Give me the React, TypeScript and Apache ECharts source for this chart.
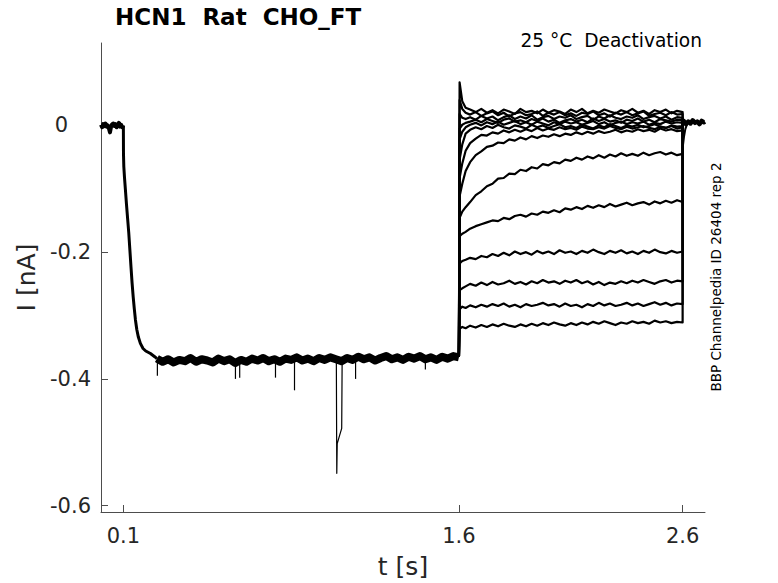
import React, { useEffect, useRef } from "react";
import * as echarts from "echarts";

// ---- axis ticks ----
const xTicks = [0.1, 1.6, 2.6];
const yTicks = [-0.6, -0.4, -0.2, 0];

// ---- holding baseline (0 - 0.1 s) ----
const baseT = [0, 0.005, 0.01, 0.015, 0.02, 0.025, 0.03, 0.035, 0.04, 0.045, 0.05, 0.055, 0.06, 0.065, 0.07, 0.075, 0.08, 0.085, 0.09, 0.095, 0.1];
const baseI = [0.001, -0.003, 0.002, -0.001, 0.003, -0.002, 0.0, -0.004, -0.011, -0.002, 0.002, 0.003, -0.001, 0.002, -0.003, 0.001, 0.004, -0.002, 0.001, -0.003, 0.0];

// ---- activation (hyperpolarising step, shared by all sweeps) ----
const actT = [0.1, 0.1005, 0.102, 0.105, 0.109, 0.114, 0.119, 0.124, 0.129, 0.134, 0.139, 0.144, 0.149, 0.154, 0.16, 0.167, 0.176, 0.188, 0.2, 0.221, 0.24, 0.25];
const actI = [0.0, -0.045, -0.065, -0.082, -0.101, -0.125, -0.147, -0.169, -0.196, -0.223, -0.249, -0.271, -0.29, -0.307, -0.322, -0.334, -0.344, -0.352, -0.356, -0.36, -0.365, -0.368];

const plateauT = [
  0.25, 0.275, 0.3, 0.325, 0.35, 0.375, 0.4, 0.425, 0.45, 0.475,
  0.5, 0.525, 0.55, 0.575, 0.6, 0.625, 0.65, 0.675, 0.7, 0.725,
  0.75, 0.775, 0.8, 0.825, 0.85, 0.875, 0.9, 0.925, 0.95, 0.975,
  1.0, 1.025, 1.05, 1.075, 1.1, 1.125, 1.15, 1.175, 1.2, 1.225,
  1.25, 1.275, 1.3, 1.325, 1.35, 1.375, 1.4, 1.425, 1.45, 1.475,
  1.5, 1.525, 1.55, 1.575, 1.6,
];
const plateauI = [
  -0.368, -0.373, -0.369, -0.374, -0.37, -0.372, -0.367, -0.373, -0.369, -0.371,
  -0.374, -0.368, -0.372, -0.369, -0.375, -0.37, -0.373, -0.368, -0.371, -0.367,
  -0.372, -0.369, -0.373, -0.368, -0.37, -0.366, -0.371, -0.368, -0.372, -0.367,
  -0.37, -0.366, -0.369, -0.372, -0.367, -0.37, -0.365, -0.369, -0.366, -0.371,
  -0.367, -0.364, -0.369, -0.366, -0.37, -0.365, -0.368, -0.364, -0.369, -0.366,
  -0.37, -0.365, -0.368, -0.364, -0.366,
];

// ---- brief artefact spikes on the plateau ----
const spikeT = [0.252, 0.601, 0.62, 0.78, 0.865, 1.138, 1.45];
const spikeTop = [-0.372, -0.374, -0.373, -0.372, -0.371, -0.369, -0.367];
const spikeMin = [-0.395, -0.4, -0.398, -0.398, -0.418, -0.4, -0.385];
const bigSpikeT = [1.052, 1.054, 1.056, 1.066, 1.076, 1.078];
const bigSpikeI = [-0.368, -0.549, -0.502, -0.49, -0.478, -0.368];

// ---- deactivation steps (1.6 - 2.6 s) ----
const deactT = [
  1.6, 1.603, 1.615,
  1.63, 1.65, 1.675, 1.7, 1.725, 1.75, 1.775, 1.8, 1.825, 1.85,
  1.875, 1.9, 1.925, 1.95, 1.975, 2.0, 2.025, 2.05, 2.075, 2.1,
  2.125, 2.15, 2.175, 2.2, 2.225, 2.25, 2.275, 2.3, 2.325, 2.35,
  2.375, 2.4, 2.425, 2.45, 2.475, 2.5, 2.525, 2.55, 2.575, 2.6,
];
const sweep1 = [
  -0.365, 0.068, 0.038,
  0.028, 0.025, 0.021, 0.026, 0.02, 0.024, 0.019, 0.025, 0.022, 0.018,
  0.026, 0.021, 0.023, 0.019, 0.025, 0.02, 0.024, 0.022, 0.018, 0.025,
  0.021, 0.026, 0.019, 0.023, 0.02, 0.025, 0.022, 0.019, 0.024, 0.021,
  0.026, 0.02, 0.023, 0.018, 0.024, 0.021, 0.025, 0.019, 0.023, 0.021,
];
const sweep2 = [
  -0.365, 0.04, 0.026,
  0.02, 0.017, 0.021, 0.015, 0.019, 0.022, 0.016, 0.02, 0.014, 0.019,
  0.021, 0.016, 0.018, 0.022, 0.015, 0.02, 0.017, 0.021, 0.016, 0.019,
  0.015, 0.02, 0.018, 0.022, 0.016, 0.019, 0.014, 0.02, 0.017, 0.021,
  0.016, 0.019, 0.022, 0.015, 0.018, 0.02, 0.016, 0.021, 0.017, 0.018,
];
const sweep3 = [
  -0.365, 0.018, 0.012,
  0.01, 0.013, 0.009, 0.015, 0.011, 0.014, 0.008, 0.013, 0.016, 0.01,
  0.014, 0.011, 0.016, 0.009, 0.013, 0.015, 0.01, 0.014, 0.012, 0.016,
  0.01, 0.013, 0.015, 0.009, 0.014, 0.011, 0.016, 0.012, 0.01, 0.014,
  0.012, 0.016, 0.01, 0.013, 0.015, 0.011, 0.014, 0.009, 0.013, 0.012,
];
const sweep4 = [
  -0.365, -0.005, 0.001,
  0.004, 0.006, 0.009, 0.005, 0.01, 0.007, 0.004, 0.009, 0.011, 0.006,
  0.008, 0.005, 0.01, 0.007, 0.011, 0.006, 0.009, 0.004, 0.008, 0.01,
  0.006, 0.009, 0.005, 0.011, 0.007, 0.01, 0.006, 0.008, 0.004, 0.009,
  0.007, 0.011, 0.006, 0.009, 0.005, 0.01, 0.008, 0.006, 0.009, 0.008,
];
const sweep5 = [
  -0.365, -0.022, -0.01,
  -0.003, 0.001, 0.004, 0.0, 0.005, 0.002, 0.006, 0.001, 0.004, 0.007,
  0.002, 0.005, 0.001, 0.006, 0.003, 0.0, 0.005, 0.002, 0.006, 0.003,
  0.005, 0.001, 0.004, 0.007, 0.002, 0.005, 0.0, 0.004, 0.006, 0.002,
  0.005, 0.003, 0.006, 0.001, 0.004, 0.002, 0.006, 0.003, 0.005, 0.004,
];
const sweep6 = [
  -0.365, -0.054, -0.03,
  -0.013, -0.007, -0.003, -0.006, -0.001, -0.004, 0.001, -0.003, -0.005, 0.0,
  -0.002, -0.005, 0.001, -0.003, 0.0, -0.004, -0.001, 0.002, -0.003, -0.001,
  -0.004, 0.001, -0.002, -0.005, 0.0, -0.003, 0.002, -0.001, -0.004, 0.0,
  -0.002, 0.001, -0.003, -0.001, 0.002, -0.002, -0.004, 0.0, -0.002, -0.001,
];
const sweep7 = [
  -0.365, -0.083, -0.06,
  -0.04, -0.028, -0.021, -0.015, -0.016, -0.011, -0.013, -0.008, -0.011, -0.007,
  -0.01, -0.006, -0.009, -0.004, -0.008, -0.005, -0.007, -0.003, -0.006, -0.004,
  -0.007, -0.002, -0.005, -0.006, -0.003, -0.005, -0.001, -0.004, -0.006, -0.002,
  -0.005, -0.003, -0.001, -0.004, -0.006, -0.002, -0.004, -0.001, -0.005, -0.003,
];
const sweep8 = [
  -0.365, -0.112, -0.092,
  -0.072, -0.058, -0.047, -0.041, -0.034, -0.032, -0.027, -0.028, -0.022, -0.024,
  -0.019, -0.022, -0.017, -0.02, -0.016, -0.018, -0.014, -0.017, -0.013, -0.015,
  -0.011, -0.014, -0.01, -0.013, -0.009, -0.012, -0.01, -0.007, -0.011, -0.008,
  -0.01, -0.006, -0.009, -0.007, -0.01, -0.005, -0.008, -0.006, -0.009, -0.008,
];
const sweep9 = [
  -0.365, -0.146, -0.136,
  -0.129, -0.121, -0.11, -0.104, -0.096, -0.092, -0.084, -0.083, -0.076, -0.077,
  -0.07, -0.072, -0.066, -0.068, -0.061, -0.063, -0.058, -0.06, -0.054, -0.056,
  -0.051, -0.054, -0.049, -0.052, -0.047, -0.051, -0.046, -0.049, -0.044, -0.048,
  -0.045, -0.048, -0.043, -0.047, -0.044, -0.042, -0.046, -0.043, -0.047, -0.045,
];
const sweep10 = [
  -0.365, -0.175, -0.171,
  -0.168, -0.163, -0.159, -0.156, -0.153, -0.15, -0.151, -0.146, -0.148, -0.143,
  -0.141, -0.144, -0.139, -0.141, -0.136, -0.138, -0.134, -0.137, -0.131, -0.133,
  -0.129, -0.132, -0.127, -0.13, -0.126, -0.129, -0.124, -0.128, -0.125, -0.122,
  -0.126, -0.123, -0.121, -0.125, -0.12, -0.123, -0.119, -0.122, -0.118, -0.121,
];
const sweep11 = [
  -0.365, -0.218, -0.214,
  -0.212, -0.209, -0.211, -0.206, -0.208, -0.203, -0.206, -0.201, -0.205, -0.199,
  -0.203, -0.2, -0.204, -0.198, -0.202, -0.199, -0.203, -0.197, -0.201, -0.199,
  -0.203, -0.198, -0.201, -0.196, -0.2, -0.203, -0.198, -0.201, -0.197, -0.202,
  -0.199, -0.203, -0.198, -0.201, -0.196, -0.2, -0.202, -0.198, -0.201, -0.199,
];
const sweep12 = [
  -0.365, -0.26, -0.257,
  -0.254, -0.25, -0.253, -0.248, -0.252, -0.247, -0.251, -0.249, -0.245, -0.25,
  -0.247, -0.251, -0.246, -0.249, -0.244, -0.248, -0.246, -0.25, -0.245, -0.248,
  -0.244, -0.249, -0.246, -0.251, -0.247, -0.252, -0.248, -0.25, -0.246, -0.249,
  -0.245, -0.248, -0.244, -0.247, -0.25, -0.246, -0.244, -0.248, -0.245, -0.246,
];
const sweep13 = [
  -0.365, -0.29, -0.286,
  -0.288, -0.284, -0.287, -0.283, -0.286, -0.282, -0.285, -0.281, -0.286, -0.283,
  -0.287, -0.282, -0.285, -0.283, -0.28, -0.284, -0.282, -0.286, -0.281, -0.285,
  -0.283, -0.287, -0.282, -0.285, -0.28, -0.284, -0.281, -0.285, -0.283, -0.28,
  -0.284, -0.281, -0.285, -0.282, -0.279, -0.283, -0.28, -0.284, -0.281, -0.282,
];
const sweep14 = [
  -0.365, -0.321, -0.318,
  -0.32, -0.316, -0.319, -0.315, -0.318, -0.314, -0.317, -0.313, -0.316, -0.318,
  -0.314, -0.317, -0.313, -0.316, -0.312, -0.315, -0.311, -0.314, -0.316, -0.312,
  -0.315, -0.311, -0.314, -0.31, -0.313, -0.309, -0.312, -0.315, -0.311, -0.313,
  -0.309, -0.312, -0.31, -0.313, -0.308, -0.311, -0.309, -0.312, -0.31, -0.311,
];
const sweeps = [sweep1, sweep2, sweep3, sweep4, sweep5, sweep6, sweep7, sweep8, sweep9, sweep10, sweep11, sweep12, sweep13, sweep14];

// ---- return to holding (after 2.6 s) ----
const tailT = [2.6, 2.605, 2.615, 2.625, 2.635, 2.645, 2.655, 2.665, 2.675, 2.685, 2.695, 2.7];
const tailI = [0.004, 0.007, 0.002, 0.006, 0.003, 0.008, 0.004, 0.006, 0.002, 0.007, 0.005, 0.006];
const tailDipT = [2.6, 2.602, 2.606, 2.612, 2.62];
const tailDipI = [-0.036, -0.03, -0.018, -0.006, 0.002];

const FONT = "DejaVu Sans";
const INK = "#262626";

function pairs(t: number[], v: number[]) {
  return t.map((x, i) => [x, v[i]]);
}

function lineSeries(name: string, data: number[][], width: number) {
  return {
    name,
    type: "line",
    data,
    symbol: "none",
    silent: true,
    lineStyle: { color: "#000", width, join: "round" },
    itemStyle: { color: "#000" },
  };
}

export default function App() {
  const ref = useRef<HTMLDivElement>(null);

  useEffect(() => {
    document.body.style.margin = "0";
    if (!ref.current) return;
    const chart = echarts.init(ref.current, undefined, { renderer: "svg" });

    const series: any[] = [];
    series.push(lineSeries("holding", pairs(baseT, baseI), 4));
    series.push(lineSeries("activation", pairs(actT, actI), 3));
    series.push(lineSeries("plateau", pairs(plateauT, plateauI), 8));
    spikeT.forEach((t, i) => {
      series.push(lineSeries("spike" + i, [[t, spikeTop[i]], [t, spikeMin[i]]], 1.2));
    });
    series.push(lineSeries("bigSpike", pairs(bigSpikeT, bigSpikeI), 1.2));
    sweeps.forEach((s, k) => {
      const d = pairs(deactT, s);
      d.push([tailT[0], tailI[0]]);
      series.push(lineSeries("sweep" + (k + 1), d, 2.2));
    });
    series.push(lineSeries("tail", pairs(tailT, tailI), 4.5));
    series.push(lineSeries("tailDip", pairs(tailDipT, tailDipI), 2));

    const axisLineStyle = { color: "#4d4d4d", width: 1 };
    const tickText = { fontFamily: FONT, fontSize: 21, color: INK };

    chart.setOption({
      animation: false,
      backgroundColor: "#ffffff",
      title: {
        text: "HCN1  Rat  CHO_FT",
        left: 115,
        top: 5,
        padding: 0,
        textStyle: { fontFamily: FONT, fontSize: 23, fontWeight: "bold", color: "#000" },
      },
      grid: { left: 101, right: 73, top: 43, bottom: 71, containLabel: false, outerBoundsMode: "none" },
      xAxis: {
        type: "value",
        min: 0,
        max: 2.7,
        name: "t [s]",
        nameLocation: "middle",
        nameGap: 42,
        nameTextStyle: { fontFamily: FONT, fontSize: 25, color: INK },
        axisLine: { onZero: false, lineStyle: axisLineStyle },
        axisTick: { inside: true, length: 7, customValues: xTicks, lineStyle: axisLineStyle },
        axisLabel: {
          customValues: xTicks,
          margin: 13,
          ...tickText,
          formatter: (v: number) => String(v),
        },
        splitLine: { show: false },
      },
      yAxis: {
        type: "value",
        min: -0.61,
        max: 0.13,
        name: "I [nA]",
        nameLocation: "middle",
        nameRotate: 90,
        nameGap: 60,
        nameTextStyle: { fontFamily: FONT, fontSize: 25, color: INK },
        axisLine: { show: true, onZero: false, lineStyle: axisLineStyle },
        axisTick: { show: true, inside: true, length: 7, customValues: yTicks, lineStyle: axisLineStyle },
        axisLabel: {
          customValues: yTicks,
          margin: 10,
          ...tickText,
          formatter: (v: number) => (v === 0 ? "{z|0}" : String(v)),
          rich: { z: { ...tickText, padding: [0, 23, 0, 0] } },
        },
        splitLine: { show: false },
      },
      graphic: [
        {
          type: "text",
          x: 702,
          y: 40,
          style: {
            text: "25 °C  Deactivation",
            fontFamily: FONT,
            fontSize: 18.6,
            fill: "#000",
            textAlign: "right",
            textVerticalAlign: "middle",
          },
        },
        {
          type: "text",
          x: 716,
          y: 277,
          rotation: Math.PI / 2,
          style: {
            text: "BBP Channelpedia ID 26404 rep 2",
            fontFamily: FONT,
            fontSize: 13.5,
            fill: "#000",
            textAlign: "center",
            textVerticalAlign: "middle",
          },
        },
      ],
      series,
    });

    return () => chart.dispose();
  }, []);

  return <div ref={ref} style={{ width: 778, height: 583 }} />;
}
